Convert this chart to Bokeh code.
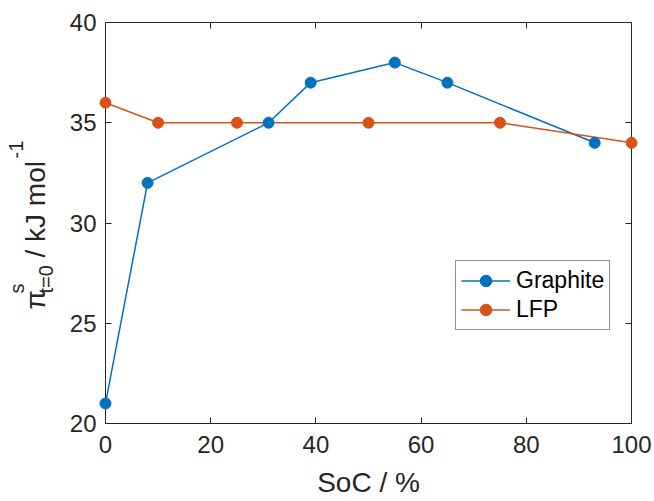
from math import pi
from bokeh.plotting import figure
from bokeh.layouts import row
from bokeh.models import Range1d, LinearAxis, FixedTicker
from bokeh.core.properties import value
from bokeh.embed import file_html
from bokeh.resources import INLINE

# ---- data ----
graphite_soc = [0, 8, 31, 39, 55, 65, 93]
graphite_pi = [21, 32, 35, 37, 38, 37, 34]
lfp_soc = [0, 10, 25, 50, 75, 100]
lfp_pi = [36, 35, 35, 35, 35, 34]
x_ticks = [0, 20, 40, 60, 80, 100]
y_ticks = [20, 25, 30, 35, 40]
series_names = ["Graphite", "LFP"]

FONT = "Liberation Sans"
AX = "#262626"
C_G = "#0072BD"
C_L = "#D95319"

X0, X1, Y0, Y1 = 0, 100, 20, 40
W, H = 654, 501
LW = 66                       # width of the strip holding the y-axis title
FL, FR, FT, FB = 105, 631, 22, 423   # frame edges in page pixels

p = figure(width=W - LW, height=H, output_backend="svg", toolbar_location=None,
           x_range=Range1d(X0, X1), y_range=Range1d(Y0, Y1),
           min_border_left=FL - LW, min_border_right=W - FR,
           min_border_top=FT, min_border_bottom=H - FB,
           background_fill_color="white", border_fill_color="white",
           outline_line_color=None)
p.grid.visible = False

p.add_layout(LinearAxis(), "above")
p.add_layout(LinearAxis(), "right")


def style_axis(ax, ticks, show_labels=True):
    ax.ticker = FixedTicker(ticks=ticks)
    ax.axis_line_color = AX
    ax.axis_line_width = 1
    ax.major_tick_line_color = AX
    ax.major_tick_in = 6
    ax.major_tick_out = 0
    ax.minor_tick_line_color = None
    ax.major_label_text_font = FONT
    if show_labels:
        ax.major_label_text_color = AX
        ax.major_label_text_font_size = "24px"
    else:
        ax.major_label_text_color = None
        ax.major_label_text_alpha = 0
        ax.major_label_text_font_size = "1px"
        ax.major_label_standoff = 0


style_axis(p.below[0], x_ticks)
style_axis(p.above[0], x_ticks, show_labels=False)
style_axis(p.left[0], y_ticks)
style_axis(p.right[0], y_ticks, show_labels=False)

xa = p.below[0]
xa.major_label_standoff = 12
xa.axis_label = "SoC / %"
xa.axis_label_text_font = FONT
xa.axis_label_text_font_size = "28px"
xa.axis_label_text_font_style = "normal"
xa.axis_label_text_color = AX
xa.axis_label_standoff = 11

ya = p.left[0]
ya.major_label_standoff = 9

# ---- series ----
p.line(graphite_soc, graphite_pi, line_color=C_G, line_width=1.5, legend_label=series_names[0])
p.scatter(graphite_soc, graphite_pi, size=11, fill_color=C_G, line_color=C_G,
          legend_label=series_names[0], level="overlay")
p.line(lfp_soc, lfp_pi, line_color=C_L, line_width=1.5, legend_label=series_names[1])
p.scatter(lfp_soc, lfp_pi, size=11, fill_color=C_L, line_color=C_L,
          legend_label=series_names[1], level="overlay")

lg = p.legend[0]
lg.location = (350, 93)
lg.label_text_font = FONT
lg.label_text_font_size = "23px"
lg.label_text_color = "black"
lg.glyph_width = 49
lg.glyph_height = 29
lg.label_height = 29
lg.label_standoff = 6
lg.padding = 5
lg.spacing = 0
lg.margin = 0
lg.border_line_color = AX
lg.border_line_width = 1
lg.background_fill_color = "white"
lg.background_fill_alpha = 1

# ---- y-axis title strip (rotated pieces: pi, super s, sub t=0, unit, super -1) ----
# The row aligns this strip's frame with the main frame (FT..FB), so its
# y-range is expressed in page pixels measured from the bottom edge.
t = figure(width=LW, height=H, output_backend="svg", toolbar_location=None,
           x_range=Range1d(0, LW), y_range=Range1d(H - FB, H - FT),
           min_border=0, min_border_left=0, min_border_right=0,
           min_border_top=0, min_border_bottom=0,
           background_fill_color="white", border_fill_color="white",
           outline_line_color=None)
t.axis.visible = False
t.grid.visible = False


def piece(text, bx, sy, size):
    t.text(x=[bx], y=[H - sy], text=[text], angle=pi / 2,
           text_align="left", text_baseline="alphabetic",
           text_font=value(FONT), text_font_size=value(size), text_color=AX)


piece("\u03c0", 35, 309, "28px")
piece("t=0", 45, 293, "20px")
piece("s", 16, 293, "20px")
piece("/ kJ mol", 35, 257, "28px")
piece("-1", 15, 158, "20px")

layout = row(t, p, spacing=0)
open("out.html", "w").write(file_html(layout, INLINE))
